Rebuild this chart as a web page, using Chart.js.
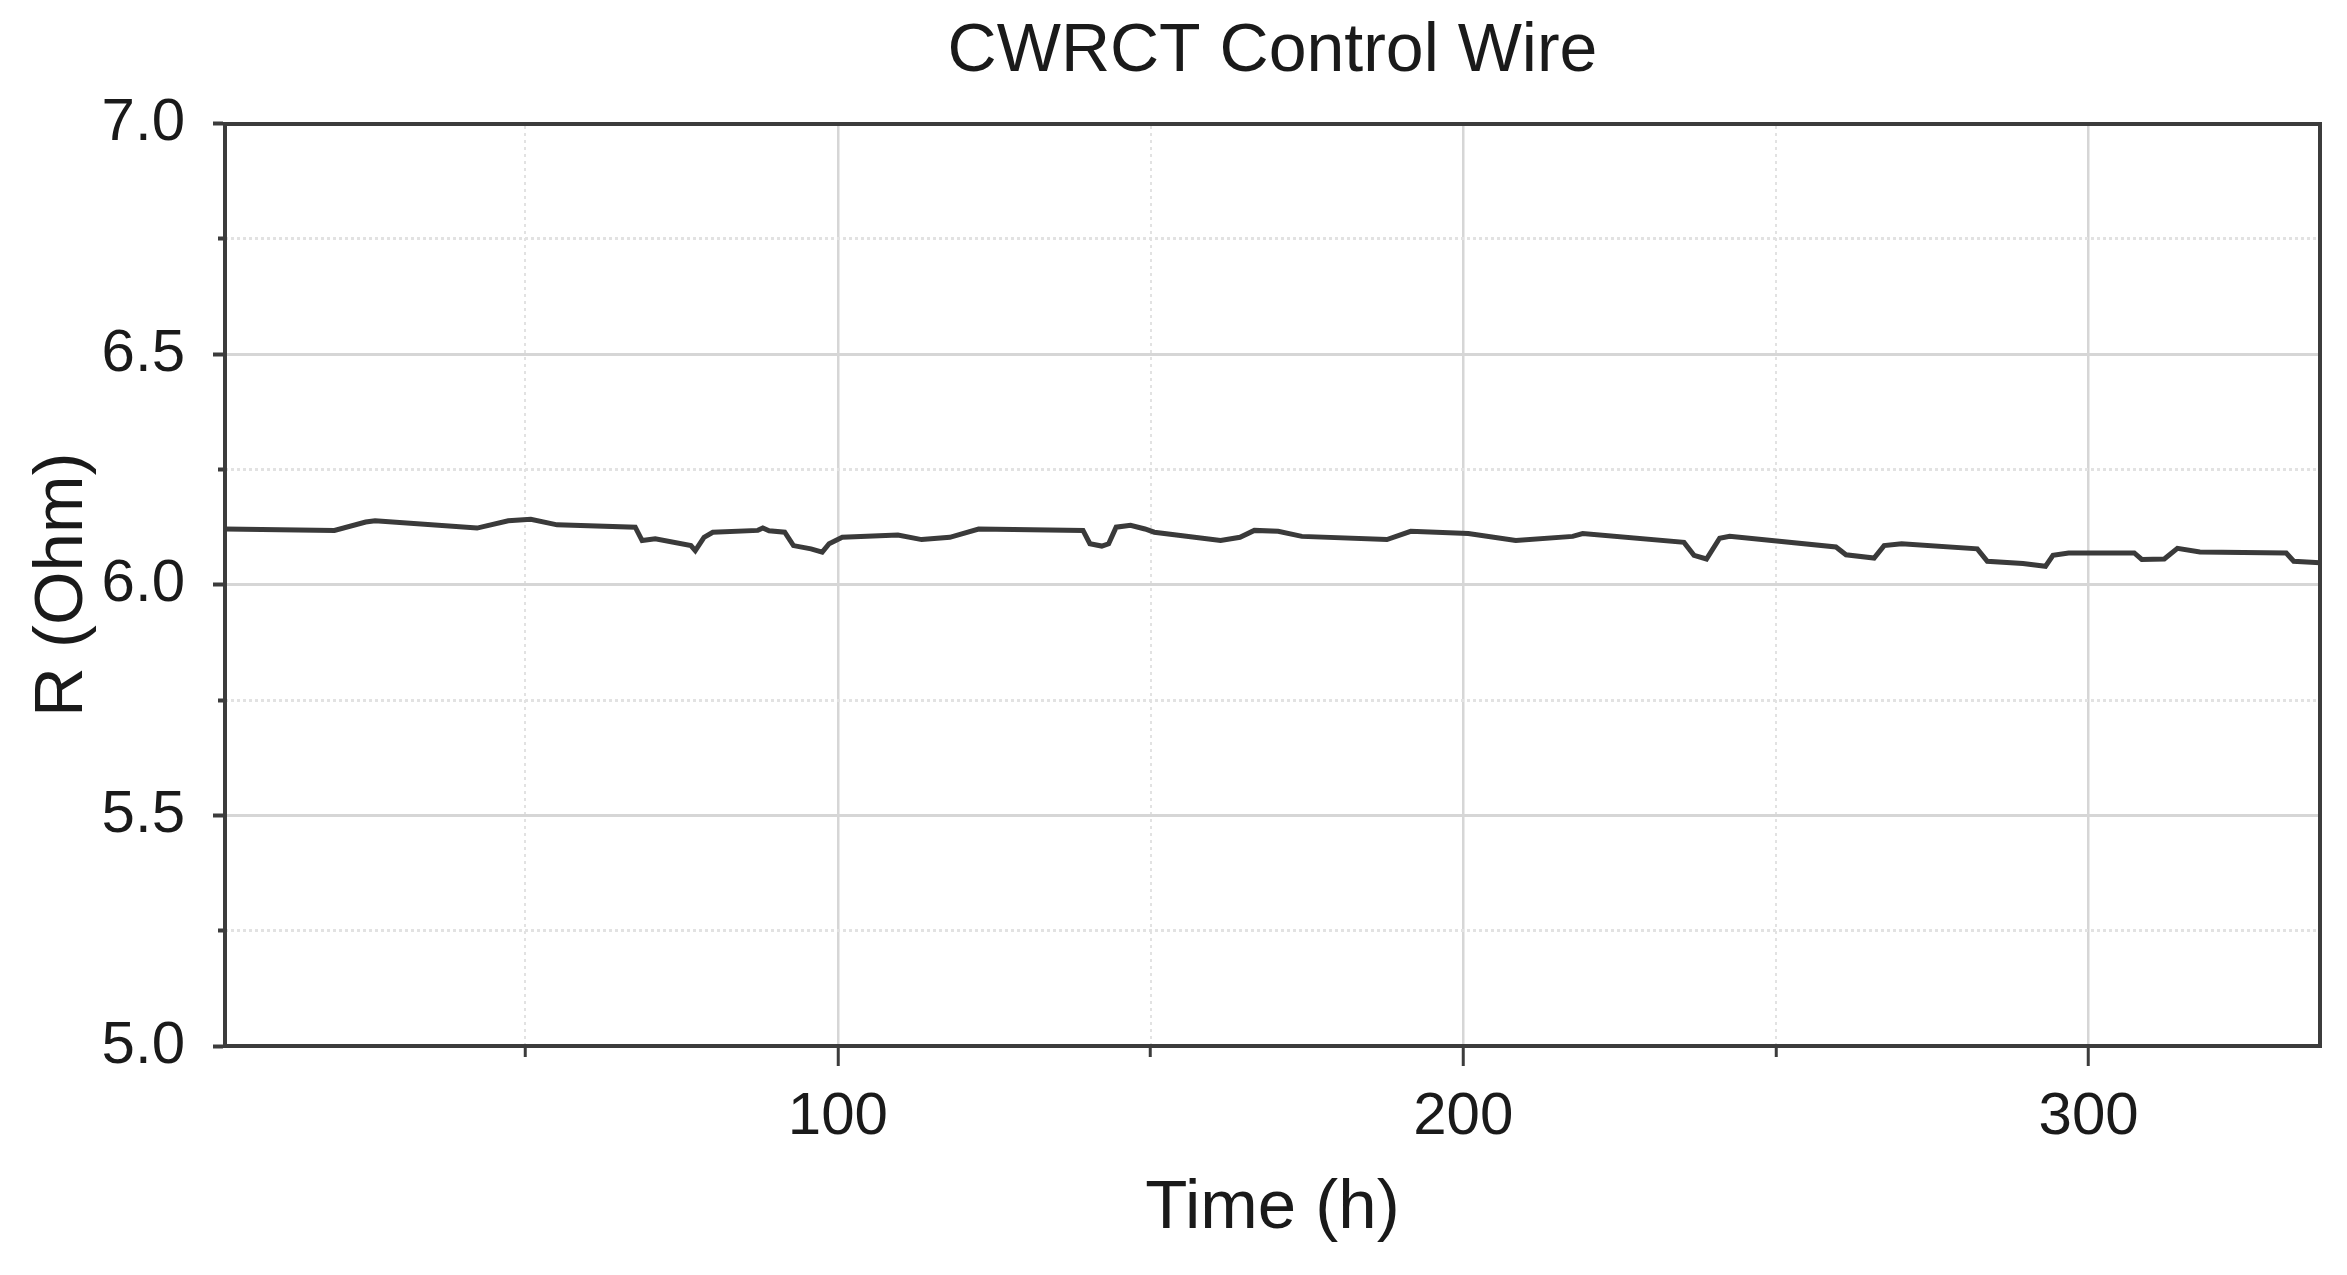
<!DOCTYPE html>
<html>
<head>
<meta charset="utf-8">
<title>CWRCT Control Wire</title>
<script src="https://cdn.jsdelivr.net/npm/chart.js@4.4.1/dist/chart.umd.min.js"></script>
<style>
    html, body { margin: 0; padding: 0; background: #ffffff; }
    canvas { display: block; }
</style>
</head>
<body>
<canvas id="wireChart" width="2347" height="1275"></canvas>
<script>
// Data (time in hours, resistance in ohm)
const timeH = [
    2, 19.5, 24.5, 26, 42.3, 47.3, 50.9, 55.1, 67.6, 68.7,
    70.8, 76.5, 77.2, 78.6, 80, 87.2, 88, 89, 91.5, 92.9,
    95.7, 97.5, 98.6, 100.7, 109.6, 113.4, 117.9, 122.5, 139.2, 140.3,
    142.2, 143.3, 144.5, 146.8, 149.1, 150.6, 161.2, 164.3, 166.6, 170.4,
    174.2, 187.8, 191.6, 200.8, 208.4, 217.5, 219.1, 235.3, 236.9, 238.9,
    241, 242.6, 259.6, 261.2, 265.7, 267.3, 270.1, 282.2, 283.8, 289.5,
    293.1, 294.3, 296.8, 307.3, 308.5, 312.1, 314.2, 317.8, 331.6, 332.8,
    337
];
const resistance = [
    6.121, 6.118, 6.136, 6.139, 6.123, 6.139, 6.142, 6.130, 6.125, 6.096,
    6.100, 6.085, 6.074, 6.103, 6.114, 6.118, 6.123, 6.117, 6.114, 6.085,
    6.078, 6.071, 6.089, 6.103, 6.108, 6.098, 6.103, 6.121, 6.118, 6.089,
    6.084, 6.089, 6.125, 6.129, 6.121, 6.114, 6.096, 6.103, 6.118, 6.116,
    6.105, 6.098, 6.116, 6.111, 6.096, 6.105, 6.111, 6.092, 6.064, 6.056,
    6.101, 6.105, 6.082, 6.065, 6.058, 6.085, 6.089, 6.078, 6.051, 6.046,
    6.040, 6.064, 6.069, 6.069, 6.055, 6.056, 6.079, 6.071, 6.069, 6.051,
    6.048
];

// Axis settings
const xMin = 2, xMax = 337, xStep = 50, xMajor = 100;
const yMin = 5.0, yMax = 7.0, yStep = 0.25, yMajor = 0.5;

const FONT = "'Liberation Sans', Arial, sans-serif";
const AXIS_COLOR = '#3c3c3c';
const GRID_MAJOR = '#d6d6d6';
const GRID_MINOR = '#e2e2e2';

function isMajor(v, step) {
    const r = v / step;
    return Math.abs(r - Math.round(r)) < 1e-6;
}

const points = timeH.map((t, i) => ({ x: t, y: resistance[i] }));

const ctx = document.getElementById('wireChart').getContext('2d');
new Chart(ctx, {
    type: 'scatter',
    data: {
        datasets: [{
            label: 'R',
            data: points,
            showLine: true,
            borderColor: '#3a3a3a',
            borderWidth: 5,
            pointRadius: 0,
            tension: 0,
            fill: false
        }]
    },
    options: {
        responsive: false,
        animation: false,
        layout: { padding: { left: 0, right: 27, top: 0, bottom: 0 } },
        plugins: {
            legend: { display: false },
            tooltip: { enabled: false },
            title: {
                display: true,
                fullSize: false,   // centre over the plot area like the original
                text: 'CWRCT Control Wire',
                color: '#1a1a1a',
                font: { family: FONT, size: 68, weight: 'normal', lineHeight: 1.2 },
                padding: { top: 11, bottom: 31 }
            }
        },
        scales: {
            x: {
                type: 'linear',
                position: 'bottom',
                min: xMin,
                max: xMax,
                afterFit: (scale) => { scale.height = 229; },
                ticks: {
                    stepSize: xStep,
                    includeBounds: false,
                    autoSkip: false,
                    maxRotation: 0,
                    padding: 15,
                    color: '#1a1a1a',
                    font: { family: FONT, size: 60, lineHeight: 1.2 },
                    callback: (v) => isMajor(v, xMajor) ? String(v) : ''
                },
                grid: {
                    color: (c) => c.tick && isMajor(c.tick.value, xMajor) ? GRID_MAJOR : 'rgba(0,0,0,0)',
                    lineWidth: 2.5,
                    tickLength: 20,
                    tickColor: AXIS_COLOR,
                    tickWidth: 3,
                    tickBorderDash: (c) => c.tick && isMajor(c.tick.value, xMajor) ? [] : [9, 100]
                },
                border: { display: true, color: AXIS_COLOR, width: 4 },
                title: {
                    display: true,
                    text: 'Time (h)',
                    color: '#1a1a1a',
                    font: { family: FONT, size: 69, lineHeight: 1.2 },
                    padding: { top: 10, bottom: 25 }
                }
            },
            // top frame line + dotted minor grid
            xt: {
                type: 'linear',
                axis: 'x',
                position: 'top',
                min: xMin,
                max: xMax,
                ticks: { display: false, stepSize: xStep, includeBounds: false },
                grid: {
                    drawTicks: false,
                    color: (c) => c.tick && !isMajor(c.tick.value, xMajor) ? GRID_MINOR : 'rgba(0,0,0,0)',
                    lineWidth: 2
                },
                border: { display: true, color: AXIS_COLOR, width: 4, dash: [3, 4] }
            },
            y: {
                type: 'linear',
                position: 'left',
                min: yMin,
                max: yMax,
                afterFit: (scale) => { scale.width = 225; },
                ticks: {
                    stepSize: yStep,
                    autoSkip: false,
                    padding: 28,
                    color: '#1a1a1a',
                    font: { family: FONT, size: 60, lineHeight: 1.2 },
                    callback: (v) => isMajor(v, yMajor) ? v.toFixed(1) : ''
                },
                grid: {
                    color: (c) => c.tick && isMajor(c.tick.value, yMajor) ? GRID_MAJOR : 'rgba(0,0,0,0)',
                    lineWidth: 3,
                    tickLength: 12,
                    tickColor: AXIS_COLOR,
                    tickWidth: 4,
                    tickBorderDash: (c) => c.tick && isMajor(c.tick.value, yMajor) ? [] : [0, 5, 5, 100]
                },
                border: { display: true, color: AXIS_COLOR, width: 4 },
                title: {
                    display: true,
                    text: 'R (Ohm)',
                    color: '#1a1a1a',
                    font: { family: FONT, size: 69, lineHeight: 1.2 },
                    padding: { top: 22, bottom: 6 }
                }
            },
            // right frame line + dotted minor grid
            yr: {
                type: 'linear',
                axis: 'y',
                position: 'right',
                min: yMin,
                max: yMax,
                ticks: { display: false, stepSize: yStep },
                grid: {
                    drawTicks: false,
                    color: (c) => c.tick && !isMajor(c.tick.value, yMajor) ? GRID_MINOR : 'rgba(0,0,0,0)',
                    lineWidth: 3
                },
                border: { display: true, color: AXIS_COLOR, width: 4, dash: [3, 3] }
            }
        }
    }
});
</script>
</body>
</html>
